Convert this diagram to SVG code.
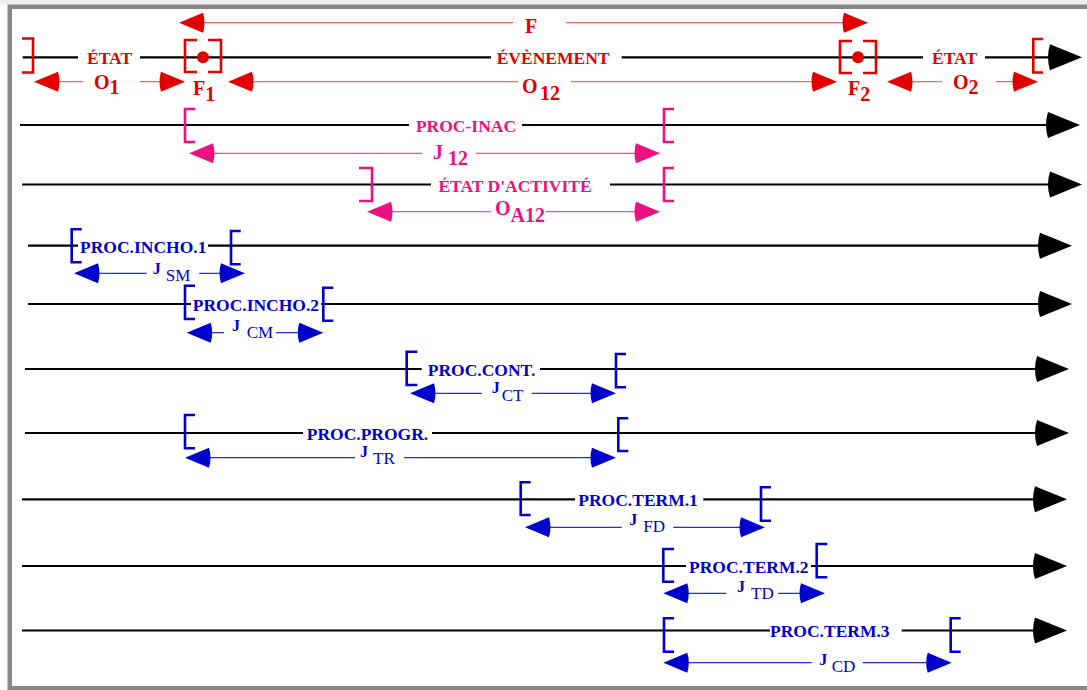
<svg xmlns="http://www.w3.org/2000/svg" width="1087" height="690" viewBox="0 0 1087 690">
<style>
.axis{fill:none;stroke:#000;stroke-width:2.2}
.br{fill:none;stroke-width:2.6}
.red-s{stroke:#e00000}
.pink-s{stroke:#ec1080}
.blue-s{stroke:#0000cc}
.dim{fill:none;stroke-width:1.3}
.dim-red{stroke:#e86a6a}
.dim-pink{stroke:#f0509a}
.dim-blue{stroke:#2a2ad8}
.lbl{font-family:"Liberation Serif","Times New Roman",serif;font-weight:bold;font-size:17.5px}
.big{font-family:"Liberation Serif","Times New Roman",serif;font-weight:bold;font-size:20px}
.jb{font-family:"Liberation Serif","Times New Roman",serif;font-weight:bold;font-size:16px}
.sub{font-family:"Liberation Serif","Times New Roman",serif;font-weight:normal;font-size:17px}
.red{fill:#e00000}
.pink{fill:#ec1080}
.blue{fill:#0000cc}
</style>
<defs>
<marker id="ah-black" markerUnits="userSpaceOnUse" markerWidth="40" markerHeight="30" viewBox="-4 -14 40 30" refX="0" refY="0" orient="auto" overflow="visible"><path d="M0,-13 L32,0 L0,13 Q-4,0 0,-13Z" fill="#000"/></marker>
<marker id="ah-red" markerUnits="userSpaceOnUse" markerWidth="30" markerHeight="24" viewBox="-4 -12 30 24" refX="0" refY="0" orient="auto-start-reverse" overflow="visible"><path d="M0,-10 L24,0 L0,10 Q-3,0 0,-10Z" fill="#e00000"/></marker>
<marker id="ah-pink" markerUnits="userSpaceOnUse" markerWidth="30" markerHeight="24" viewBox="-4 -12 30 24" refX="0" refY="0" orient="auto-start-reverse" overflow="visible"><path d="M0,-10 L24,0 L0,10 Q-3,0 0,-10Z" fill="#ec1080"/></marker>
<marker id="ah-blue" markerUnits="userSpaceOnUse" markerWidth="30" markerHeight="24" viewBox="-4 -12 30 24" refX="0" refY="0" orient="auto-start-reverse" overflow="visible"><path d="M0,-10 L24,0 L0,10 Q-3,0 0,-10Z" fill="#0000cc"/></marker>
</defs>
<rect x="0" y="0" width="1087" height="690" fill="#fff"/>
<rect x="0" y="0" width="1087" height="4.5" fill="#eeeeee"/>
<rect id="frame" x="9.75" y="6.75" width="1100" height="681.5" fill="none" stroke="#888" stroke-width="4.5"/>

<g id="row-etat-evenement">
<path class="axis" d="M22.7,57.3 H78 M140,57.3 H491 M621.7,57.3 H923 M985,57.3 H1050" marker-end="url(#ah-black)"/>
<path class="br red-s" d="M22,38.5 H33 V72.5 H22"/>
<path class="br red-s" d="M197,40 H185 V72 H197 M208,40 H221 V72 H208"/>
<circle cx="203" cy="57.3" r="6" fill="#e00000"/>
<path class="br red-s" d="M852,41 H840 V73 H852 M863,41 H876 V73 H863"/>
<circle cx="858" cy="57.3" r="6" fill="#e00000"/>
<path class="br red-s" d="M1043,39 H1033.3 V72.5 H1043"/>
<text class="lbl red" x="87" y="64">ÉTAT</text>
<text class="lbl red" x="496.7" y="64">ÉVÈNEMENT</text>
<text class="lbl red" x="932" y="64">ÉTAT</text>
<text class="big red" x="193" y="95">F<tspan y="101">1</tspan></text>
<text class="big red" x="848" y="95">F<tspan y="101">2</tspan></text>
</g>

<g id="row-proc-inac">
<path class="axis" d="M20,125 H409 M522,125 H1048" marker-end="url(#ah-black)"/>
<path class="br pink-s" d="M195,109 H185 V142 H195"/>
<path class="br pink-s" d="M674,109 H664 V142 H674"/>
<text class="lbl pink" x="466" y="132" text-anchor="middle">PROC-INAC</text>
</g>

<g id="row-etat-activite">
<path class="axis" d="M22,184.5 H431 M610,184.5 H1050" marker-end="url(#ah-black)"/>
<path class="br pink-s" d="M359,168 H372 V201 H359"/>
<path class="br pink-s" d="M674,168 H664 V201 H674"/>
<text class="lbl pink" x="515" y="192" text-anchor="middle">ÉTAT D'ACTIVITÉ</text>
</g>

<g id="row-incho1">
<path class="axis" d="M28,245.7 H78 M208,245.7 H1040" marker-end="url(#ah-black)"/>
<path class="br blue-s" d="M81.7,229.3 H71.7 V262.3 H81.7"/>
<path class="br blue-s" d="M240.7,231 H231 V264.3 H240.7"/>
<text class="lbl blue" x="80" y="253">PROC.INCHO.1</text>
</g>

<g id="row-incho2">
<path class="axis" d="M28,304 H191 M321,304 H1040" marker-end="url(#ah-black)"/>
<path class="br blue-s" d="M195,285.7 H185 V319 H195"/>
<path class="br blue-s" d="M333.3,287.7 H323.3 V320.7 H333.3"/>
<text class="lbl blue" x="192.7" y="311">PROC.INCHO.2</text>
</g>

<g id="row-cont">
<path class="axis" d="M25,369 H421.7 M540,369 H1037" marker-end="url(#ah-black)"/>
<path class="br blue-s" d="M417.3,351.7 H406.7 V385 H417.3"/>
<path class="br blue-s" d="M626,354 H616 V387.3 H626"/>
<text class="lbl blue" x="427.7" y="376">PROC.CONT.</text>
</g>

<g id="row-progr">
<path class="axis" d="M25,433 H303 M432,433 H1037" marker-end="url(#ah-black)"/>
<path class="br blue-s" d="M195,415 H185 V448.3 H195"/>
<path class="br blue-s" d="M628.3,418.3 H618.3 V451 H628.3"/>
<text class="lbl blue" x="306.7" y="440">PROC.PROGR.</text>
</g>

<g id="row-term1">
<path class="axis" d="M22,499.3 H575 M703.3,499.3 H1035" marker-end="url(#ah-black)"/>
<path class="br blue-s" d="M530.7,482.3 H520.7 V515 H530.7"/>
<path class="br blue-s" d="M771,487.3 H761 V520.7 H771"/>
<text class="lbl blue" x="578.3" y="506">PROC.TERM.1</text>
</g>

<g id="row-term2">
<path class="axis" d="M22,566 H686 M811,566 H1035" marker-end="url(#ah-black)"/>
<path class="br blue-s" d="M674,549 H663.3 V581.7 H674"/>
<path class="br blue-s" d="M827.3,544 H816.7 V577.3 H827.3"/>
<text class="lbl blue" x="689" y="573">PROC.TERM.2</text>
</g>

<g id="row-term3">
<path class="axis" d="M22,630.5 H770 M901.7,630.5 H1035" marker-end="url(#ah-black)"/>
<path class="br blue-s" d="M674,618.3 H664 V651.7 H674"/>
<path class="br blue-s" d="M960.7,618.3 H950.7 V651.7 H960.7"/>
<text class="lbl blue" x="770" y="637">PROC.TERM.3</text>
</g>

<g id="connectors">
<path class="dim dim-red" d="M203,22.7 H513 M566,22.7 H844" marker-start="url(#ah-red)" marker-end="url(#ah-red)"/>
<path class="dim dim-red" d="M58,81.7 H83 M140,81.7 H161" marker-start="url(#ah-red)" marker-end="url(#ah-red)"/>
<path class="dim dim-red" d="M252,81.7 H518 M571,81.7 H813" marker-start="url(#ah-red)" marker-end="url(#ah-red)"/>
<path class="dim dim-red" d="M911,81.7 H942 M996,81.7 H1014" marker-start="url(#ah-red)" marker-end="url(#ah-red)"/>
<path class="dim dim-pink" d="M213,153.3 H422 M476,153.3 H636" marker-start="url(#ah-pink)" marker-end="url(#ah-pink)"/>
<path class="dim dim-pink" d="M391,211.7 H491 M546,211.7 H636" marker-start="url(#ah-pink)" marker-end="url(#ah-pink)"/>
<path class="dim dim-blue" d="M98,273.3 H146.7 M199.3,273.3 H221" marker-start="url(#ah-blue)" marker-end="url(#ah-blue)"/>
<path class="dim dim-blue" d="M210.7,332.7 H224 M276,332.7 H299.3" marker-start="url(#ah-blue)" marker-end="url(#ah-blue)"/>
<path class="dim dim-blue" d="M434,393.3 H481.7 M531.7,393.3 H592" marker-start="url(#ah-blue)" marker-end="url(#ah-blue)"/>
<path class="dim dim-blue" d="M209,457.7 H355 M404,457.7 H592" marker-start="url(#ah-blue)" marker-end="url(#ah-blue)"/>
<path class="dim dim-blue" d="M549,527.3 H621.7 M673.3,527.3 H741" marker-start="url(#ah-blue)" marker-end="url(#ah-blue)"/>
<path class="dim dim-blue" d="M687.3,593.3 H726 M778.3,593.3 H801" marker-start="url(#ah-blue)" marker-end="url(#ah-blue)"/>
<path class="dim dim-blue" d="M687.3,662.7 H811.7 M862.7,662.7 H927.7" marker-start="url(#ah-blue)" marker-end="url(#ah-blue)"/>
</g>

<g id="connector-labels">
<text class="big red" x="525" y="33">F</text>
<text class="big red" x="94" y="89">O<tspan y="94">1</tspan></text>
<text class="big red" x="522" y="93">O<tspan x="540" y="100">12</tspan></text>
<text class="big red" x="953" y="89">O<tspan y="94">2</tspan></text>
<text class="big pink" x="433" y="159">J<tspan x="448" y="165">12</tspan></text>
<text class="big pink" x="495" y="215">O<tspan y="222">A12</tspan></text>
<text class="blue"><tspan class="jb" x="152.7" y="274">J</tspan><tspan class="sub" x="165.7" y="281">SM</tspan></text>
<text class="blue"><tspan class="jb" x="232" y="331">J</tspan><tspan class="sub" x="246.7" y="338">CM</tspan></text>
<text class="blue"><tspan class="jb" x="491.7" y="393">J</tspan><tspan class="sub" x="501.7" y="401">CT</tspan></text>
<text class="blue"><tspan class="jb" x="360" y="457">J</tspan><tspan class="sub" x="373" y="464">TR</tspan></text>
<text class="blue"><tspan class="jb" x="629.3" y="525">J</tspan><tspan class="sub" x="643.3" y="532">FD</tspan></text>
<text class="blue"><tspan class="jb" x="737" y="592">J</tspan><tspan class="sub" x="751" y="599">TD</tspan></text>
<text class="blue"><tspan class="jb" x="819.3" y="665">J</tspan><tspan class="sub" x="831.7" y="672">CD</tspan></text>
</g>
</svg>
